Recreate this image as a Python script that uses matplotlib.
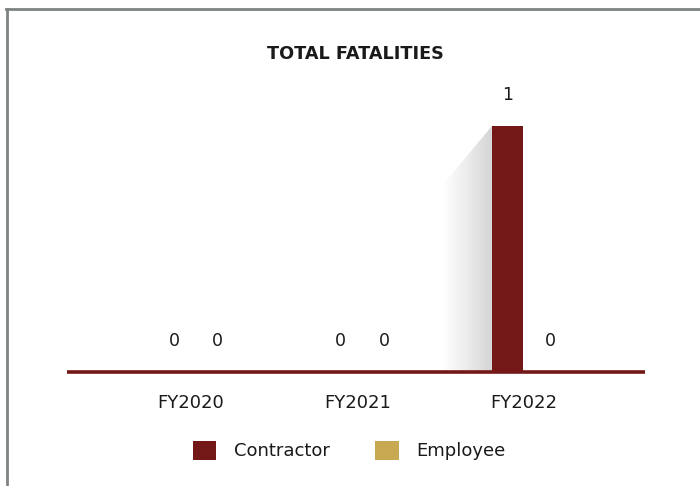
import numpy as np
import matplotlib.pyplot as plt
from matplotlib.lines import Line2D
from matplotlib.patches import Polygon
from matplotlib.colors import LinearSegmentedColormap

years = ["FY2020", "FY2021", "FY2022"]
contractor = [0, 0, 1]
employee = [0, 0, 0]

red = "#741717"
gold = "#c8a951"
txt = "#1a1a1a"

plt.rcParams["font.family"] = ["DejaVu Sans"]

fig = plt.figure(figsize=(7, 4.86), dpi=100)
ax = fig.add_axes([0.0957, 0.2346, 0.826, 0.58])

x = np.arange(len(years))
w = 0.186
b1 = ax.bar(x - 0.1, contractor, w, color=red, label="Contractor", zorder=3)
b2 = ax.bar(x + 0.16, employee, w, color=gold, label="Employee", zorder=3)

ax.set_xlim(-0.745, 2.728)
ax.set_ylim(0, 1.146)

# soft shadow to the left of non-zero bars
shade = LinearSegmentedColormap.from_list("sh", ["#ffffff", "#ebebeb", "#d4d4d4"])
for bar in b1:
    h = bar.get_height()
    if h <= 0:
        continue
    x1 = bar.get_x()
    x0 = x1 - 0.295
    y1 = h * 0.76
    grad = np.linspace(0, 1, 256).reshape(1, -1)
    im = ax.imshow(grad, extent=[x0, x1, 0, h], aspect="auto", cmap=shade,
                   zorder=2, interpolation="bilinear")
    poly = Polygon([[x0, 0], [x0, y1], [x1, h], [x1, 0]], closed=True,
                   facecolor="none", edgecolor="none", transform=ax.transData)
    ax.add_patch(poly)
    im.set_clip_path(poly)

for bars in (b1, b2):
    for bar in bars:
        h = bar.get_height()
        ax.annotate(f"{h:g}", (bar.get_x() + bar.get_width() / 2, h),
                    xytext=(0, 22), textcoords="offset points",
                    ha="center", va="center", fontsize=12.5, color=txt)

ax.axhline(0, color=red, lw=2.6, zorder=4, solid_capstyle="butt", clip_on=False)

for s in ax.spines.values():
    s.set_visible(False)
ax.set_yticks([])
ax.set_xticks(x)
ax.set_xticklabels(years, fontsize=13, color=txt)
ax.tick_params(axis="x", length=0, pad=16)

fig.text(0.507, 0.888, "TOTAL FATALITIES", ha="center", va="center",
         fontsize=12.7, fontweight="bold", color=txt)

fig.legend(loc="center", bbox_to_anchor=(0.499, 0.073), ncol=2, frameon=False,
           fontsize=13, handlelength=1.3, handleheight=1.3,
           columnspacing=2.5, handletextpad=1.0, labelcolor=txt)

fig.add_artist(Line2D([6 / 700, 1], [1 - 9 / 486, 1 - 9 / 486],
                      transform=fig.transFigure, color="#7f8483", lw=2))
fig.add_artist(Line2D([7 / 700, 7 / 700], [0, 1 - 9 / 486],
                      transform=fig.transFigure, color="#7f8483", lw=2))

fig.savefig("out.png", dpi=100)
